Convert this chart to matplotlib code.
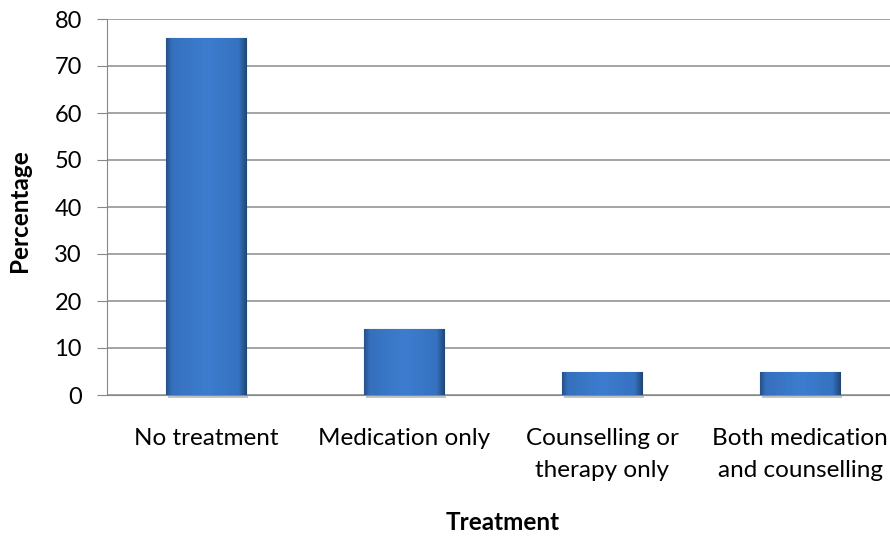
import numpy as np
import matplotlib.pyplot as plt
from matplotlib.colors import LinearSegmentedColormap

# data
categories = ["No treatment", "Medication only", "Counselling or\ntherapy only",
              "Both medication\nand counselling"]
percentages = [76, 14, 5, 5]
y_ticks = [0, 10, 20, 30, 40, 50, 60, 70, 80]

plt.rcParams['font.family'] = ['Lato', 'DejaVu Sans']

fig = plt.figure(figsize=(8.9, 5.36), dpi=100)
ax = fig.add_axes([107 / 890, 141 / 536, 792 / 890, 376 / 536])

x = np.arange(len(categories))
bars = ax.bar(x, percentages, width=0.405, color='#3a78c8', edgecolor='#1f4a80',
              linewidth=0.8, zorder=3)

# Excel-like bevel: mostly flat blue with darker rims + soft shadow
cmap = LinearSegmentedColormap.from_list(
    'bev', [(0, '#25508a'), (0.07, '#3570bd'), (0.5, '#3d7dcf'),
            (0.9, '#3572c0'), (1, '#1f4676')])
grad = np.linspace(0, 1, 256).reshape(1, -1)
for b in bars:
    x0, y0 = b.get_x(), b.get_y()
    w, h = b.get_width(), b.get_height()
    im = ax.imshow(grad, cmap=cmap, aspect='auto', extent=[x0, x0 + w, y0, y0 + h],
                   zorder=3.5)
    im.set_clip_path(b)
    ax.bar(x0 + w / 2 + 0.01, 0.7, width=w, bottom=-0.7, color='#c4c4c4',
           linewidth=0, zorder=2.5, clip_on=False)

ax.set_xlim(-0.5, 3.5)
ax.set_ylim(0, 80)
ax.set_yticks(y_ticks)
ax.set_xticks(x)
ax.set_xticklabels(categories, fontsize=17.5, linespacing=1.62)
ax.tick_params(axis='y', labelsize=17, length=7, color='#878787', pad=11)
ax.tick_params(axis='x', length=0, pad=24)

ax.yaxis.grid(True, color='#8c8c8c', linewidth=1.1, zorder=0)
ax.set_axisbelow(True)
for s in ['top', 'right']:
    ax.spines[s].set_visible(False)
ax.spines['left'].set_color('#878787')
ax.spines['bottom'].set_color('#878787')

ax.set_ylabel("Percentage", fontsize=17.5, fontweight='bold')
ax.yaxis.set_label_coords(-0.11, 0.49)
ax.set_xlabel("Treatment", fontsize=17.5, fontweight='bold')
ax.xaxis.set_label_coords(0.5, -0.34)
ax.xaxis.label.set_va('center')
ax.yaxis.label.set_va('center')

fig.savefig("out.png", dpi=100)
